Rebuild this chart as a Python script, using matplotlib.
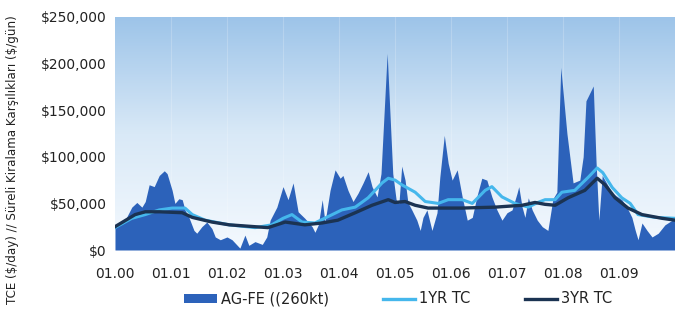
import numpy as np
import matplotlib
matplotlib.use("Agg")
import matplotlib.pyplot as plt
from matplotlib.patches import Patch
from matplotlib.lines import Line2D
from matplotlib.colors import LinearSegmentedColormap

# ---- data (years since Jan 2000, values in $ thousands/day) ----
agfe_t = [0.00, 0.18, 0.30, 0.39, 0.48, 0.54, 0.61, 0.70, 0.79, 0.88, 0.93, 1.02, 1.07, 1.14, 1.20,
          1.25, 1.32, 1.41, 1.46, 1.55, 1.64, 1.73, 1.79, 1.88, 2.00, 2.09, 2.23, 2.32, 2.39, 2.50,
          2.63, 2.71, 2.77, 2.89, 3.00, 3.09, 3.18, 3.27, 3.39, 3.52, 3.57, 3.63, 3.70, 3.75, 3.84,
          3.93, 4.02, 4.07, 4.16, 4.25, 4.34, 4.43, 4.52, 4.59, 4.68, 4.75, 4.86, 4.96, 5.02, 5.07,
          5.12, 5.18, 5.23, 5.30, 5.39, 5.45, 5.50, 5.57, 5.66, 5.75, 5.80, 5.88, 5.95, 6.02, 6.11,
          6.20, 6.29, 6.38, 6.46, 6.55, 6.64, 6.73, 6.82, 6.91, 7.00, 7.09, 7.18, 7.21, 7.27, 7.32,
          7.38, 7.45, 7.54, 7.63, 7.73, 7.82, 7.89, 7.96, 8.07, 8.18, 8.30, 8.36, 8.41, 8.54, 8.59,
          8.64, 8.70, 8.88, 9.05, 9.14, 9.23, 9.29, 9.34, 9.41, 9.50, 9.59, 9.70, 9.82, 9.95, 10.00]
agfe_v = [27, 32, 46, 51, 46, 52, 70, 68, 80, 85, 82, 64, 50, 55, 54,
          43, 35, 21, 18, 25, 30, 23, 14, 11, 14, 11, 2, 16, 5, 9,
          6, 14, 32, 46, 68, 54, 72, 41, 34, 25, 19, 27, 54, 30, 64,
          86, 77, 80, 64, 52, 61, 72, 84, 68, 57, 82, 211, 82, 54, 50,
          90, 75, 51, 43, 32, 21, 35, 43, 21, 40, 78, 123, 93, 75, 86,
          57, 32, 35, 57, 77, 75, 57, 43, 32, 40, 43, 61, 68, 46, 35,
          56, 43, 32, 25, 21, 55, 62, 196, 125, 72, 75, 100, 160, 176, 95,
          32, 80, 61, 54, 46, 35, 21, 11, 29, 21, 14, 18, 27, 32, 33]

yr1_t = [0.00, 0.30, 0.54, 0.79, 1.02, 1.25, 1.38, 1.61, 2.04, 2.50, 2.80, 3.00, 3.16, 3.34, 3.57,
         3.88, 4.05, 4.29, 4.52, 4.77, 4.88, 5.00, 5.12, 5.18, 5.36, 5.54, 5.77, 5.95, 6.20, 6.38,
         6.61, 6.73, 6.91, 7.14, 7.38, 7.55, 7.68, 7.86, 7.98, 8.21, 8.45, 8.61, 8.71, 8.88, 9.05,
         9.20, 9.34, 9.64, 10.00]
yr1_v = [24, 34, 38, 43, 45, 45, 38, 32, 27, 24, 27, 34, 38, 30, 29,
         38, 43, 46, 56, 72, 77, 75, 70, 68, 62, 52, 50, 54, 54, 50,
         64, 68, 57, 50, 46, 51, 54, 54, 62, 64, 78, 88, 83, 67, 56,
         50, 38, 35, 34]

yr3_t = [0.00, 0.36, 0.54, 0.80, 1.20, 1.38, 1.73, 2.04, 2.50, 2.73, 3.04, 3.39, 3.70, 3.98, 4.29,
         4.59, 4.88, 5.00, 5.18, 5.36, 5.59, 6.20, 6.79, 7.27, 7.50, 7.68, 7.86, 8.09, 8.39, 8.61,
         8.75, 8.93, 9.16, 9.41, 9.77, 10.00]
yr3_v = [25, 38, 41, 41, 40, 35, 30, 27, 25, 24, 30, 27, 29, 32, 40,
         48, 54, 51, 52, 48, 45, 45, 46, 48, 51, 49, 48, 56, 64, 77,
         70, 56, 45, 38, 34, 32]

tick_pos = list(range(10))
tick_labels = ["01.00", "01.01", "01.02", "01.03", "01.04", "01.05", "01.06", "01.07", "01.08", "01.09"]
y_ticks = [0, 50, 100, 150, 200, 250]
series_names = ["AG-FE ((260kt)", "1YR TC", "3YR TC"]

# ---- figure ----
fig = plt.figure(figsize=(6.75, 3.13), dpi=100)
ax = fig.add_axes([115/675, 1-250/313, 560/675, 233/313])

grad = LinearSegmentedColormap.from_list("bg", ["#f4f9fe", "#d9e9f7", "#9dc4e9"])
g = np.linspace(0, 1, 256).reshape(-1, 1)
ax.imshow(g, cmap=grad, aspect="auto", extent=[0, 10, 0, 250], origin="lower", zorder=0)

for x in tick_pos[1:]:
    ax.axvline(x, color="#ffffff", lw=0.8, alpha=0.2, zorder=1)

area_c = "#2c62ba"
c1 = "#45b7ec"
c3 = "#1b3352"
ax.fill_between(agfe_t, agfe_v, 0, color=area_c, lw=0, zorder=2)
ax.plot(yr1_t, yr1_v, color=c1, lw=2.2, zorder=3, solid_joinstyle="round")
ax.plot(yr3_t, yr3_v, color=c3, lw=2.4, zorder=4, solid_joinstyle="round")

ax.set_xlim(0, 10)
ax.set_ylim(0, 250)
ax.set_xticks(tick_pos)
ax.set_xticklabels(tick_labels)
ax.set_yticks(y_ticks)
ax.set_yticklabels(["\\$0" if v == 0 else "\\${:,}".format(v * 1000) for v in y_ticks])
ax.tick_params(length=0, labelsize=10, colors="#222222")
ax.tick_params(axis="x", pad=12)
ax.tick_params(axis="y", pad=6)
for s in ax.spines.values():
    s.set_visible(False)

fig.text(0.018, 0.49, "TCE (\\$/day) // Süreli Kiralama Karşılıkları (\\$/gün)", rotation=90,
         ha="center", va="center", fontsize=8.6, color="#222222")

handles = [Patch(facecolor=area_c, edgecolor="none"),
           Line2D([0], [0], color=c1, lw=2.4),
           Line2D([0], [0], color=c3, lw=2.4)]
fig.legend(handles, series_names, loc="center", bbox_to_anchor=(0.59, 0.045), ncol=3,
           frameon=False, fontsize=10.5, handlelength=2.2, handleheight=0.6, handletextpad=0.3,
           columnspacing=3.7, labelcolor="#222222")

fig.savefig("out.png", dpi=100, facecolor="white")
